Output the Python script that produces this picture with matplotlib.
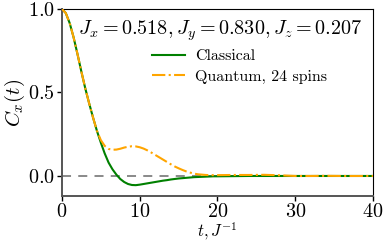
import numpy as np
import matplotlib
matplotlib.use("Agg")
import matplotlib.pyplot as plt

plt.rcParams['font.family'] = 'serif'
plt.rcParams['font.serif'] = ['cmr10']
plt.rcParams['mathtext.fontset'] = 'cm'
plt.rcParams['axes.formatter.use_mathtext'] = True
plt.rcParams['axes.unicode_minus'] = False

# время, шаг 0.5 до t=20, дальше реже
t = [0.0, 0.5, 1.0, 1.5, 2.0, 2.5, 3.0, 3.5, 4.0, 4.5, 5.0, 5.5, 6.0, 6.5,
     7.0, 7.5, 8.0, 8.5, 9.0, 9.5, 10.0, 10.5, 11.0, 11.5, 12.0, 12.5, 13.0,
     13.5, 14.0, 14.5, 15.0, 15.5, 16.0, 16.5, 17.0, 17.5, 18.0, 18.5, 19.0,
     19.5, 20.0, 22.0, 24.0, 26.0, 28.0, 30.0, 32.0, 34.0, 36.0, 38.0, 40.0]

c_classical = [1.0, 0.975, 0.915, 0.83, 0.73, 0.625, 0.525, 0.435, 0.35,
               0.27, 0.20, 0.135, 0.08, 0.04, 0.008, -0.018, -0.036, -0.048,
               -0.054, -0.055, -0.052, -0.048, -0.044, -0.040, -0.036, -0.032,
               -0.028, -0.025, -0.021, -0.018, -0.015, -0.013, -0.011, -0.009,
               -0.007, -0.006, -0.005, -0.004, -0.003, -0.002, -0.002, -0.001,
               0.0, 0.0, 0.0, 0.0, 0.0, 0.0, 0.0, 0.0, 0.0]

c_quantum = [1.0, 0.975, 0.915, 0.83, 0.73, 0.625, 0.525, 0.435, 0.35,
             0.27, 0.215, 0.18, 0.162, 0.157, 0.158, 0.163, 0.17, 0.175,
             0.178, 0.177, 0.172, 0.164, 0.153, 0.14, 0.126, 0.112, 0.098,
             0.084, 0.07, 0.057, 0.046, 0.036, 0.027, 0.02, 0.014, 0.01,
             0.008, 0.006, 0.005, 0.005, 0.005, 0.006, 0.006, 0.007, 0.004,
             0.0, 0.0, 0.001, 0.0, 0.0, 0.0]

title = r'$J_x = 0.518, J_y = 0.830, J_z = 0.207$'

fig = plt.figure(figsize=(3.87, 2.42), dpi=100)
ax = fig.add_axes([0.160, 0.190, 0.804, 0.773])

ax.axhline(0, color='gray', linestyle=(0, (5, 4)), linewidth=1.3, zorder=1)
ax.plot(t, c_classical, color='green', linewidth=1.5, label='Classical', zorder=2)
ax.plot(t, c_quantum, color='orange', linestyle='-.', linewidth=1.5,
        label='Quantum, 24 spins', zorder=3)

ax.set_xlim(0, 40)
ax.set_ylim(-0.12, 1.0)
ax.set_xticks([0, 10, 20, 30, 40])
ax.set_yticks([0.0, 0.5, 1.0])
ax.tick_params(labelsize=14.5, length=3.5, width=1, pad=1.5)

for side in ['left', 'bottom']:
    ax.spines[side].set_color('#555555')
    ax.spines[side].set_linewidth(1.4)

ax.set_xlabel(r'$t, J^{-1}$', fontsize=12)
ax.xaxis.set_label_coords(0.5, -0.13)
ax.set_ylabel(r'$C_x(t)$', fontsize=15, labelpad=1)

ax.text(0.965, 0.95, title, transform=ax.transAxes, ha='right', va='top',
        fontsize=14.5)
ax.legend(loc='upper left', bbox_to_anchor=(0.27, 0.82), frameon=False,
          fontsize=11.5, handlelength=2.05, handletextpad=0.6,
          borderaxespad=0.0, labelspacing=0.4)

fig.savefig('out.png', dpi=100)
